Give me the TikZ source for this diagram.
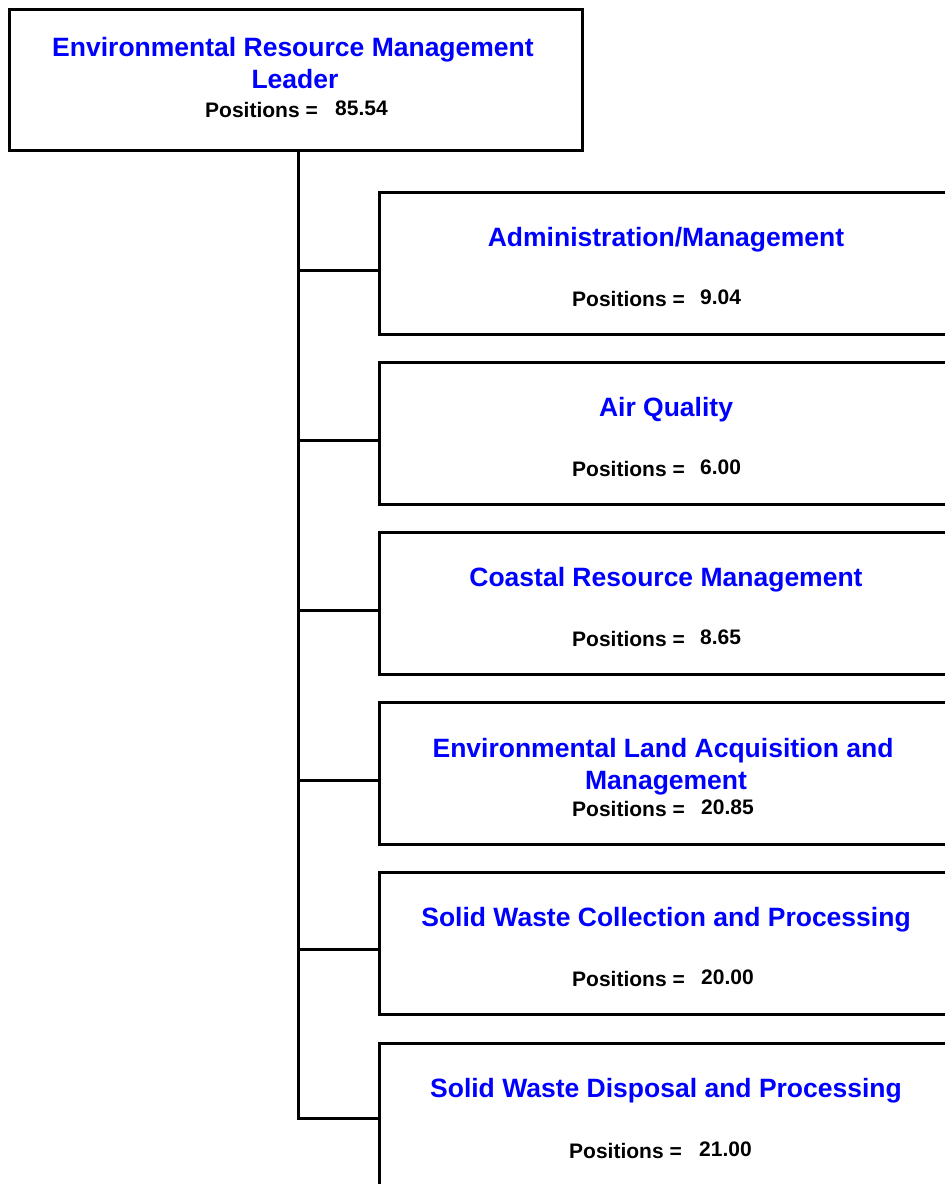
\documentclass[tikz,border=0pt]{standalone}
\usepackage{fontspec}
\setmainfont{Liberation Sans}
\definecolor{ttblue}{RGB}{0,0,255}
\begin{document}
\begin{tikzpicture}[x=1pt,y=-1pt,
  box/.style={draw=black, line width=3pt, fill=white, rectangle, anchor=north west, inner sep=0pt, outer sep=0pt},
  topbox/.style={box, minimum width=573pt, minimum height=141pt},
  childbox/.style={box, minimum width=574pt, minimum height=142pt},
  ttl/.style={font=\bfseries\fontsize{26.5}{32}\selectfont, text=ttblue, anchor=base, inner sep=0pt},
  postext/.style={font=\bfseries\fontsize{21}{25}\selectfont, anchor=base west, inner sep=0pt},
  link/.style={line width=3pt, draw=black, line join=miter}]
\useasboundingbox (0,0) rectangle (945,1184);
\clip (0,0) rectangle (945,1184);
\fill[white] (0,0) rectangle (945,1184);

% top box
\node[topbox] (top) at (9,9) {};
\node[ttl] (topt1) at (293,56) {Environmental Resource Management};
\node[ttl] (topt2) at (295,88) {Leader};
\node[postext] (topp) at (205,117) {Positions =};
\node[postext] (topn) at (335,115) {85.54};

% child boxes
\node[childbox] (c1) at (379,192) {};
\node[childbox] (c2) at (379,362) {};
\node[childbox] (c3) at (379,532) {};
\node[childbox] (c4) at (379,702) {};
\node[childbox] (c5) at (379,872) {};
\node[childbox] (c6) at (379,1043) {};

\node[ttl] (c1t) at (666,246) {Administration/Management};
\node[postext] (c1p) at (572,306) {Positions =};
\node[postext] (c1n) at (700,304) {9.04};

\node[ttl] (c2t) at (666,416) {Air Quality};
\node[postext] (c2p) at (572,476) {Positions =};
\node[postext] (c2n) at (700,474) {6.00};

\node[ttl] (c3t) at (666,586) {Coastal Resource Management};
\node[postext] (c3p) at (572,646) {Positions =};
\node[postext] (c3n) at (700,644) {8.65};

\node[ttl] (c4t1) at (663,757) {Environmental Land Acquisition and};
\node[ttl] (c4t2) at (666,789) {Management};
\node[postext] (c4p) at (572,816) {Positions =};
\node[postext] (c4n) at (701,814) {20.85};

\node[ttl] (c5t) at (666,926) {Solid Waste Collection and Processing};
\node[postext] (c5p) at (572,986) {Positions =};
\node[postext] (c5n) at (701,984) {20.00};

\node[ttl] (c6t) at (666,1097) {Solid Waste Disposal and Processing};
\node[postext] (c6p) at (569,1158) {Positions =};
\node[postext] (c6n) at (699,1156) {21.00};

% connectors
\coordinate (j1) at (298,270);
\coordinate (j2) at (298,440);
\coordinate (j3) at (298,610);
\coordinate (j4) at (298,780);
\coordinate (j5) at (298,949);
\coordinate (j6) at (298,1118);
\draw[link] (top.south -| j6) -- (j6) -- (j6 -| c6.west);
\draw[link] (j1) -- (j1 -| c1.west);
\draw[link] (j2) -- (j2 -| c2.west);
\draw[link] (j3) -- (j3 -| c3.west);
\draw[link] (j4) -- (j4 -| c4.west);
\draw[link] (j5) -- (j5 -| c5.west);
\end{tikzpicture}
\end{document}
